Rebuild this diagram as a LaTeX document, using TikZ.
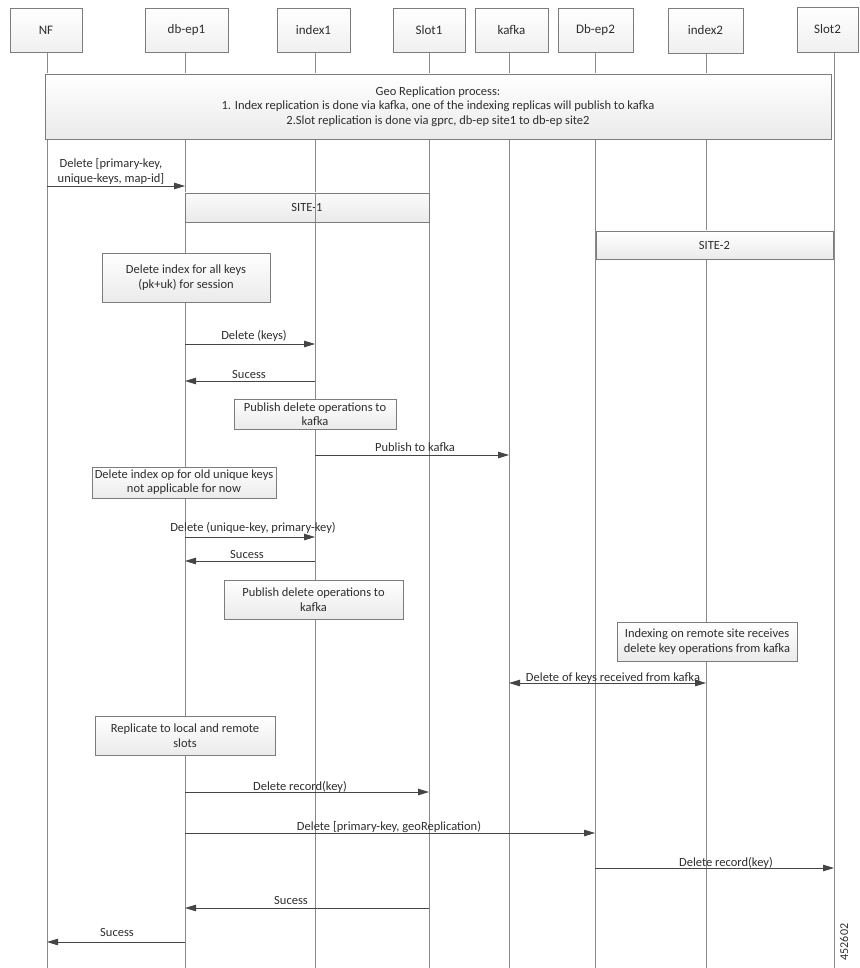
\documentclass[tikz,border=0pt]{standalone}
\usepackage{fontspec}
\setmainfont{Carlito}
\usetikzlibrary{arrows.meta,shadows}
\definecolor{lifec}{HTML}{8A8A8A}
\definecolor{boxc}{HTML}{7C7C7C}
\definecolor{msgc}{HTML}{454545}
\definecolor{txtc}{HTML}{2E2E2E}
\tikzset{
  head/.style={draw=boxc, line width=0.8pt, top color=white, bottom color=gray!12, text=txtc,
    font=\fontsize{13}{15}\selectfont, inner sep=0pt},
  band/.style={draw=boxc, line width=0.8pt, top color=white, bottom color=gray!16, text=txtc,
    font=\fontsize{12.5}{14.5}\selectfont, align=center, inner sep=0pt,
    drop shadow={opacity=0.18, shadow xshift=1.2pt, shadow yshift=-1.2pt}},
  note/.style={draw=boxc, line width=0.8pt, top color=white, bottom color=gray!16, text=txtc,
    font=\fontsize{12.5}{15}\selectfont, align=center, inner sep=0pt,
    drop shadow={opacity=0.18, shadow xshift=1.2pt, shadow yshift=-1.2pt}},
  life/.style={draw=lifec, line width=0.9pt},
  msg/.style={draw=msgc, line width=0.8pt, -{Triangle[length=11pt,width=6.5pt]}},
  dmsg/.style={draw=msgc, line width=0.8pt, {Triangle[length=11pt,width=6.5pt]}-{Triangle[length=11pt,width=6.5pt]}},
  lbl/.style={text=txtc, font=\fontsize{12.5}{15}\selectfont, anchor=base, inner sep=0pt, align=center}
}
\begin{document}
\begin{tikzpicture}[x=1pt,y=-1pt]
\useasboundingbox[fill=white] (0,0) rectangle (859,968);
% lifeline anchors
\coordinate (lNF) at (47,52);
\coordinate (lDB1) at (185,52);
\coordinate (lIX1) at (315,52);
\coordinate (lS1) at (429,52);
\coordinate (lK) at (509,52);
\coordinate (lDB2) at (595,52);
\coordinate (lIX2) at (706,52);
\coordinate (lS2) at (834,52);
\foreach \c in {lNF,lDB1,lIX1,lS1,lK,lDB2,lIX2,lS2}{
  \draw[life] (\c) -- (\c |- 0,968);
}
% headers
\node[head, minimum width=72pt, minimum height=44pt] (hNF) at (46,30) {NF};
\node[head, minimum width=83pt, minimum height=44pt] (hDB1) at (186.5,30) {db-ep1};
\node[head, minimum width=73pt, minimum height=44pt] (hIX1) at (313.5,30) {index1};
\node[head, minimum width=72pt, minimum height=44pt] (hS1) at (429,30) {Slot1};
\node[head, minimum width=73pt, minimum height=44pt] (hK) at (511.5,30) {kafka};
\node[head, minimum width=75pt, minimum height=44pt] (hDB2) at (595.5,30) {Db-ep2};
\node[head, minimum width=75pt, minimum height=45pt] (hIX2) at (705.5,30.5) {index2};
\node[head, minimum width=61pt, minimum height=45pt] (hS2) at (827.5,29.5) {Slot2};
% geo box
\node[band, minimum width=786pt, minimum height=65pt, font=\fontsize{12.5}{14.5}\selectfont] (geo) at (438,106.5)
  {Geo Replication process:\\1. Index replication is done via kafka, one of the indexing replicas will publish to kafka\\2.Slot replication is done via gprc, db-ep site1 to db-ep site2};
% message 1
\draw[msg] (lNF |- 0,186) -- (lDB1 |- 0,186);
\node[lbl, anchor=center] (t1) at (111,171) {Delete [primary-key,\\unique-keys, map-id]};
% site bands
\node[band, minimum width=244pt, minimum height=29pt, fill opacity=0.85, text opacity=1] (site1) at (307,207.5) {SITE-1};
\draw[life] (lIX1 |- site1.north) -- (lIX1 |- site1.south);
\node[band, minimum width=237pt, minimum height=28pt] (site2) at (714.5,245) {SITE-2};
% note 1
\node[note, minimum width=168pt, minimum height=49pt] (n1) at (186,277.5) {Delete index for all keys\\(pk+uk) for session};
% delete keys
\draw[msg] (lDB1 |- 0,344) -- (lIX1 |- 0,344);
\node[lbl] (t2) at (254,339) {Delete (keys)};
\draw[msg] (lIX1 |- 0,381) -- (lDB1 |- 0,381);
\node[lbl] (t3) at (249,378) {Sucess};
\node[note, minimum width=162pt, minimum height=30pt, font=\fontsize{12.5}{14}\selectfont] (n2) at (315,414) {Publish delete operations to\\kafka};
\draw[msg] (lIX1 |- 0,455) -- (lK |- 0,455);
\node[lbl] (t4) at (415,451) {Publish to kafka};
\node[note, minimum width=184pt, minimum height=31pt, font=\fontsize{12.5}{14}\selectfont] (n3) at (184,482.5) {Delete index op for old unique keys\\not applicable for now};
\draw[msg] (lDB1 |- 0,537) -- (lIX1 |- 0,537);
\node[lbl] (t5) at (253,531) {Delete (unique-key, primary-key)};
\draw[msg] (lIX1 |- 0,561) -- (lDB1 |- 0,561);
\node[lbl] (t6) at (247,558) {Sucess};
\node[note, minimum width=179pt, minimum height=39pt] (n4) at (313.5,599.5) {Publish delete operations to\\kafka};
\node[note, minimum width=180pt, minimum height=39pt] (n5) at (707,641.5) {Indexing on remote site receives\\delete key operations from kafka};
\draw[dmsg] (lK |- 0,683) -- (lIX2 |- 0,683);
\node[lbl] (t7) at (613,681) {Delete of keys received from kafka};
\node[note, minimum width=180pt, minimum height=39pt] (n6) at (185,735.5) {Replicate to local and remote\\slots};
\draw[msg] (lDB1 |- 0,792) -- (lS1 |- 0,792);
\node[lbl] (t8) at (300,790) {Delete record(key)};
\draw[msg] (lDB1 |- 0,833) -- (lDB2 |- 0,833);
\node[lbl] (t9) at (389,830) {Delete [primary-key, geoReplication)};
\draw[msg] (lDB2 |- 0,868) -- (lS2 |- 0,868);
\node[lbl] (t10) at (726,866) {Delete record(key)};
\draw[msg] (lS1 |- 0,908) -- (lDB1 |- 0,908);
\node[lbl] (t11) at (291,904) {Sucess};
\draw[msg] (lDB1 |- 0,942) -- (lNF |- 0,942);
\node[lbl] (t12) at (117,936) {Sucess};
\node[text=txtc, font=\fontsize{12}{14}\selectfont, rotate=90, inner sep=0pt] (fig) at (844,942) {452602};
\end{tikzpicture}
\end{document}
